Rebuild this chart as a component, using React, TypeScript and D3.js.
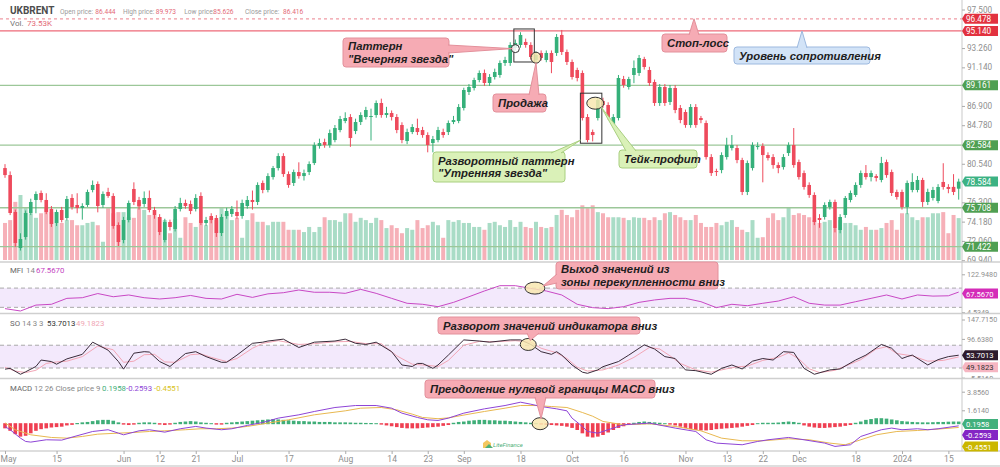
import React, { useEffect, useRef } from 'react';
import * as d3 from 'd3';

// Daily candles [open, high, low, close], May 1 2023 .. Jan 17 2024
const candles: number[][] = [
  [80.07, 80.5, 79.0, 79.30], [79.30, 79.7, 74.9, 75.13], [75.24, 75.5, 71.4, 71.83], [71.28, 72.9, 71.0, 72.27], [72.49, 75.4, 72.2, 75.13],
  [75.13, 76.7, 74.9, 76.34], [76.56, 77.5, 75.1, 77.22], [77.33, 77.6, 76.3, 76.56], [76.56, 77.3, 75.0, 75.24], [75.57, 75.9, 73.6, 73.92],
  [74.03, 75.5, 73.7, 75.24], [75.46, 75.8, 74.1, 74.36], [74.58, 77.0, 74.3, 76.67], [76.78, 77.2, 75.5, 75.79], [76.01, 77.3, 75.1, 75.68],
  [75.68, 76.2, 74.4, 75.90], [76.01, 77.7, 75.8, 77.44], [77.66, 78.7, 77.4, 78.21], [78.32, 78.6, 75.2, 75.90], [76.01, 77.5, 75.7, 77.22],
  [77.44, 77.9, 76.8, 77.00], [77.00, 77.3, 73.4, 73.70], [73.81, 74.1, 71.5, 71.94], [72.16, 74.7, 71.8, 74.36], [74.36, 76.5, 74.1, 76.23],
  [77.77, 78.5, 76.0, 76.34], [76.56, 76.9, 75.5, 75.90], [76.12, 77.5, 75.8, 76.78], [76.78, 77.6, 75.2, 75.46], [75.46, 75.8, 74.5, 74.91],
  [74.69, 75.0, 72.7, 73.04], [72.16, 74.5, 71.9, 74.14], [74.14, 74.4, 73.2, 73.59], [73.37, 75.9, 73.1, 75.57], [75.57, 76.8, 75.3, 76.23],
  [76.23, 76.6, 75.6, 75.90], [76.12, 76.5, 75.0, 75.35], [75.57, 77.2, 75.3, 76.78], [77.00, 77.4, 73.8, 74.03], [74.03, 74.7, 73.7, 74.36],
  [74.80, 75.1, 74.0, 74.36], [74.58, 74.9, 72.5, 72.93], [72.93, 75.0, 72.6, 74.69], [74.80, 75.7, 74.5, 75.35], [75.02, 75.9, 74.7, 75.57],
  [75.24, 76.5, 74.5, 74.80], [74.80, 76.6, 74.5, 76.23], [75.90, 77.0, 75.6, 76.56], [76.56, 77.6, 75.5, 76.34], [76.34, 78.5, 76.0, 78.21],
  [78.43, 78.7, 77.3, 77.66], [77.66, 79.5, 77.4, 79.19], [79.08, 80.3, 78.8, 80.07], [80.07, 81.7, 79.8, 81.39], [81.39, 81.7, 79.1, 79.41],
  [79.41, 79.7, 77.9, 78.21], [78.43, 79.9, 78.1, 79.63], [79.63, 80.7, 78.9, 79.19], [79.19, 79.9, 78.7, 79.52], [79.63, 80.8, 79.3, 80.51],
  [80.62, 82.9, 80.4, 82.60], [82.49, 83.3, 82.2, 82.82], [82.93, 83.3, 82.3, 82.60], [82.60, 84.3, 82.3, 83.92], [83.15, 84.8, 82.9, 84.47],
  [84.25, 85.8, 84.0, 85.46], [85.24, 86.2, 85.0, 85.57], [85.68, 86.0, 82.4, 83.37], [84.14, 85.5, 83.8, 85.13], [85.13, 86.2, 84.8, 85.90],
  [85.68, 86.8, 85.4, 86.45], [85.68, 86.6, 83.1, 85.79], [85.90, 87.5, 85.6, 87.22], [87.22, 87.7, 85.6, 85.90], [85.90, 86.8, 85.6, 86.12],
  [86.12, 86.4, 85.3, 85.68], [85.68, 86.0, 83.9, 84.25], [84.80, 85.1, 82.8, 83.15], [83.04, 84.4, 82.7, 84.03], [84.03, 84.9, 83.8, 84.58],
  [84.47, 85.5, 83.7, 84.03], [84.25, 84.6, 83.4, 83.70], [83.70, 84.0, 81.8, 82.60], [82.82, 83.6, 81.8, 83.26], [83.15, 84.6, 82.9, 84.25],
  [84.03, 84.4, 83.4, 83.70], [84.03, 85.3, 83.7, 85.02], [85.13, 85.8, 84.9, 85.35], [85.24, 87.1, 85.0, 86.78], [86.67, 88.9, 86.4, 88.65],
  [88.43, 89.3, 88.1, 88.98], [88.87, 90.0, 88.6, 89.75], [89.75, 90.8, 89.5, 90.52], [90.52, 90.9, 89.1, 89.42], [89.42, 90.4, 89.1, 90.08],
  [90.08, 91.0, 89.8, 90.63], [90.30, 91.9, 90.0, 91.62], [91.62, 92.3, 91.3, 91.95], [91.62, 93.9, 91.3, 93.60], [93.27, 94.2, 93.0, 93.82],
  [93.60, 95.0, 93.3, 94.70], [93.93, 94.3, 93.3, 93.60], [93.60, 93.9, 92.0, 92.28], [91.95, 92.9, 91.5, 92.50], [92.72, 93.0, 91.9, 92.17],
  [91.95, 93.0, 91.7, 92.72], [92.72, 93.0, 90.5, 91.73], [92.72, 94.8, 92.4, 94.48], [94.70, 95.25, 92.5, 92.83], [92.83, 93.1, 91.4, 91.73],
  [91.73, 92.0, 89.8, 90.08], [90.85, 91.1, 89.6, 89.97], [90.52, 90.8, 85.3, 85.57], [85.68, 86.0, 82.9, 83.15], [84.03, 84.3, 83.0, 83.70],
  [85.57, 87.8, 85.3, 87.55], [87.44, 87.8, 86.7, 87.00], [87.00, 87.3, 85.4, 85.68], [84.91, 86.0, 84.5, 85.68], [85.57, 90.3, 85.3, 89.97],
  [89.86, 90.2, 88.9, 89.20], [88.98, 90.1, 88.7, 89.86], [90.30, 91.9, 89.4, 91.07], [90.52, 92.5, 90.2, 92.17], [92.06, 92.3, 90.9, 91.18],
  [90.85, 91.2, 89.1, 89.42], [89.53, 89.8, 86.9, 87.22], [87.22, 89.3, 86.9, 88.98], [88.98, 89.3, 86.9, 87.22], [87.33, 89.2, 87.0, 88.87],
  [88.87, 89.2, 86.1, 86.45], [86.67, 87.0, 85.0, 85.35], [86.23, 86.5, 84.5, 84.80], [84.80, 87.1, 84.5, 86.78], [86.78, 87.1, 84.5, 84.80],
  [85.57, 85.8, 85.0, 85.35], [85.02, 85.3, 81.0, 81.28], [81.28, 81.6, 79.2, 79.52], [79.74, 80.0, 79.2, 79.63], [79.85, 81.8, 79.5, 81.50],
  [81.28, 83.4, 81.0, 82.60], [82.27, 83.7, 82.0, 82.60], [82.27, 82.6, 80.6, 80.95], [80.95, 81.2, 77.1, 77.44], [77.44, 80.9, 77.1, 80.62],
  [80.07, 82.9, 79.8, 82.60], [82.38, 82.9, 82.1, 82.49], [82.49, 82.8, 78.5, 81.50], [81.50, 81.8, 80.9, 81.17], [81.28, 81.6, 80.0, 80.40],
  [80.40, 80.7, 79.5, 80.07], [80.18, 81.6, 79.9, 81.28], [81.72, 82.9, 81.4, 82.60], [82.60, 84.47, 80.1, 80.40], [80.73, 81.0, 78.8, 79.08],
  [79.52, 79.8, 77.7, 77.99], [78.21, 78.5, 76.8, 77.11], [77.11, 77.4, 73.8, 74.14], [74.58, 75.0, 73.5, 74.36], [74.69, 76.3, 74.4, 76.01],
  [75.79, 76.6, 75.5, 76.34], [76.34, 76.6, 73.0, 73.48], [73.26, 75.0, 72.9, 74.69], [74.91, 77.0, 74.6, 76.78], [76.56, 77.6, 76.3, 77.33],
  [77.11, 78.5, 76.9, 78.21], [78.21, 79.8, 77.9, 79.52], [79.52, 80.4, 78.8, 79.08], [79.08, 79.8, 78.6, 79.52], [79.19, 79.4, 78.6, 78.98],
  [78.76, 81.3, 78.5, 80.62], [80.73, 81.0, 79.0, 79.30], [79.63, 79.9, 77.0, 77.33], [77.44, 77.7, 76.6, 76.89], [77.44, 77.7, 75.5, 75.79],
  [75.79, 78.7, 75.0, 78.43], [77.66, 79.5, 77.4, 78.54], [77.66, 79.2, 77.4, 78.76], [78.76, 79.0, 75.8, 76.34], [76.34, 77.8, 76.0, 77.44],
  [76.78, 78.0, 76.5, 77.66], [76.45, 78.3, 76.2, 77.99], [78.54, 80.6, 77.7, 77.99], [77.99, 78.3, 77.3, 77.77], [78.00, 79.4, 77.1, 77.44],
  [77.80, 78.9, 76.6, 78.58],
];

// volume, thousands
const volumes = [
  65, 70, 102, 114, 91, 82, 74, 82, 91, 84, 84, 65, 70, 70, 61, 61, 65, 67, 61, 32,
  91, 82, 84, 84, 75, 74, 102, 88, 79, 79, 75, 70, 47, 72, 39, 75, 65, 58, 70, 61,
  74, 70, 91, 82, 70, 74, 39, 70, 82, 67, 67, 61, 67, 67, 67, 53, 53, 53, 49, 58,
  49, 58, 75, 70, 70, 67, 82, 82, 67, 74, 70, 65, 74, 70, 56, 61, 56, 47, 56, 53,
  70, 56, 61, 67, 61, 39, 70, 67, 70, 65, 65, 58, 58, 53, 65, 67, 61, 58, 70, 58,
  67, 58, 56, 67, 58, 56, 58, 79, 88, 79, 75, 88, 96, 91, 96, 84, 82, 75, 75, 75,
  74, 70, 75, 74, 74, 70, 75, 70, 82, 84, 79, 75, 70, 70, 79, 65, 58, 58, 65, 61,
  67, 70, 58, 53, 49, 70, 39, 40, 74, 82, 70, 75, 93, 79, 82, 79, 75, 70, 65, 67,
  70, 56, 70, 65, 65, 61, 53, 58, 53, 53, 56, 65, 70, 53, 82, 82, 75, 70, 75, 75,
  82, 82, 84, 47, 79, 73.53,
];

const xTicks: [number, string][] = [
  [0, 'May'], [10, '15'], [23, 'Jun'], [30, '12'], [37, '21'], [45, 'Jul'], [55, '17'],
  [66, 'Aug'], [75, '14'], [82, '23'], [89, 'Sep'], [100, '18'], [110, 'Oct'], [120, '16'],
  [132, 'Nov'], [140, '13'], [147, '22'], [154, 'Dec'], [165, '18'], [174, '2024'], [183, '15'],
];

// axis ticks that stay visible (the rest sit under the value tags)
const priceTicks = [97.5, 93.26, 91.14, 86.9, 84.78, 80.54, 76.3, 74.18, 72.06, 69.94];
const mfiTicks = [122.948, 4.5349];
const soTicks = [147.715, 96.638, -5.516];
const macdTicks = [3.856, 1.614];

// horizontal levels on price pane
const levels = [
  { v: 96.478, kind: 'stop' },
  { v: 95.14, kind: 'resist' },
  { v: 89.161, kind: 'sup' },
  { v: 82.584, kind: 'sup' },
  { v: 75.708, kind: 'sup' },
  { v: 71.422, kind: 'sup' },
];
const lastPrice = 78.584;

// indicator lines as [bar index, value]
const mfiPts: [number, number][] = [
  [0, 16], [3, 8.6], [6, 27], [9, 29.5], [12, 48], [15, 50], [18, 63], [21, 53], [24, 58.5], [27, 50],
  [30, 46], [33, 50], [36, 57], [39, 48], [42, 46], [45, 60.6], [48, 51], [51, 62], [54, 65.6], [57, 74],
  [60, 67], [63, 67], [66, 63.6], [69, 76], [72, 63.6], [75, 48], [78, 32.6], [81, 29.5], [84, 22], [87, 35.5],
  [90, 53], [93, 71], [96, 87.5], [99, 87.5], [102, 79], [105, 71], [108, 58.5], [111, 29.5], [114, 19], [117, 16],
  [120, 22], [123, 35.5], [126, 43], [129, 48], [132, 48], [135, 37.6], [138, 19], [141, 29.5], [144, 25], [147, 32.6],
  [150, 39.6], [153, 53], [156, 32.6], [159, 27], [162, 27], [165, 37.6], [168, 48], [171, 58.5], [174, 46], [177, 58.5],
  [180, 55], [183, 56], [185, 67.567],
];

const soK: [number, number][] = [
  [0, 17], [1, 19], [3, 3.5], [4, 10], [6, 24], [7, 41], [9, 37], [10, 30], [12, 44], [15, 56], [17, 88], [20, 67],
  [22, 37], [23, 17], [25, 59], [27, 63], [28, 62], [30, 37], [32, 24], [35, 58], [37, 63], [39, 50], [42, 35], [43, 35],
  [45, 54], [48, 85], [50, 88], [51, 91], [54, 96], [57, 74], [60, 88], [64, 91], [66, 96], [68, 85], [70, 82], [72, 88],
  [75, 63], [77, 28], [79, 24], [80, 32], [81, 32], [83, 19], [84, 28], [86, 54], [89, 94], [92, 91], [94, 88], [98, 94],
  [100, 94], [102, 82], [104, 63], [106, 56], [107, 63], [108, 54], [110, 28], [112, 9], [113, 6], [115, 15], [116, 23.5],
  [119, 37], [121, 54], [124, 81], [126, 70], [128, 50], [130, 45], [132, 15], [134, 13], [137, 3.5], [139, 19], [141, 28],
  [143, 17.5], [145, 38], [147, 45], [149, 41], [151, 63], [153, 61], [155, 19], [157, 3.5], [160, 15], [162, 17.5],
  [165, 41], [167, 54], [170, 82], [172, 72], [174, 45], [175, 50], [176, 54], [179, 28], [181, 42], [183, 50], [185, 53.7013],
];

const soD: [number, number][] = [
  [0, 22], [2, 12], [4, 8], [6, 14], [8, 32], [10, 36], [12, 38], [15, 50], [18, 78], [21, 68], [23, 35], [25, 38],
  [27, 55], [29, 56], [31, 36], [33, 35], [36, 55], [38, 57], [40, 48], [43, 37], [45, 45], [48, 72], [50, 85], [53, 92],
  [57, 82], [60, 84], [64, 89], [67, 90], [70, 84], [73, 84], [76, 52], [79, 30], [82, 27], [84, 24], [86, 40], [89, 80],
  [92, 90], [95, 89], [99, 92], [102, 88], [104, 72], [107, 60], [109, 45], [111, 22], [113, 12], [116, 15], [119, 28],
  [122, 48], [125, 74], [127, 70], [129, 52], [131, 32], [134, 15], [137, 9], [140, 18], [142, 23], [144, 25], [147, 40],
  [150, 48], [152, 60], [154, 44], [156, 18], [158, 8], [161, 14], [163, 25], [166, 42], [169, 70], [171, 76], [173, 58],
  [176, 52], [179, 38], [182, 40], [185, 49.1823],
];

const macdPts: [number, number][] = [
  [0, -0.35], [1, -0.73], [3, -1.74], [4, -2.14], [5, -2.22], [8, -1.94], [11, -1.98], [13, -1.62], [17, -0.94], [20, -0.73],
  [22, -1.14], [23, -1.34], [26, -0.86], [28, -0.73], [31, -1.02], [34, -0.61], [37, -0.33], [39, -0.53], [42, -0.73], [44, -0.61],
  [47, -0.21], [50, 0.15], [53, 0.67], [57, 1.07], [60, 1.47], [64, 1.95], [68, 2.19], [72, 2.19], [75, 1.87], [77, 1.27],
  [80, 0.75], [82, 0.47], [84, 0.39], [86, 0.67], [89, 1.27], [93, 1.79], [97, 2.19], [100, 2.59], [102, 2.35], [104, 2.07],
  [107, 1.79], [109, 1.55], [110, 0.67], [112, -0.33], [113, -0.94], [115, -1.14], [117, -0.73], [120, -0.13], [125, 0.07], [130, -0.53],
  [134, -0.94], [136, -1.94], [138, -2.34], [143, -2.54], [146, -2.14], [148, -1.94], [152, -1.66], [155, -1.94], [159, -2.34], [161, -2.74],
  [164, -2.54], [166, -1.54], [170, -0.73], [172, -0.53], [174, -0.73], [177, -0.61], [179, -0.73], [181, -0.61], [185, -0.2593],
];

const signalPts: [number, number][] = [
  [0, 0.1], [2, -0.73], [5, -1.34], [9, -1.66], [12, -1.74], [15, -1.54], [18, -1.26], [22, -1.14], [25, -1.06], [28, -0.94],
  [31, -0.86], [35, -0.73], [38, -0.61], [41, -0.61], [44, -0.53], [47, -0.33], [51, 0.07], [55, 0.47], [60, 1.07], [66, 1.55],
  [69, 1.87], [73, 1.95], [76, 1.67], [79, 1.15], [81, 0.75], [84, 0.6], [86, 0.7], [90, 1.15], [93, 1.47], [97, 1.87],
  [100, 2.19], [103, 2.19], [106, 2.07], [109, 1.95], [112, 1.35], [114, 0.9], [116, 0.27], [120, -0.13], [125, -0.01], [130, -0.33],
  [135, -0.86], [139, -1.74], [143, -2.06], [147, -2.06], [152, -1.82], [156, -1.94], [160, -2.34], [163, -2.54], [165, -2.14], [169, -1.34],
  [173, -0.94], [177, -0.82], [181, -0.65], [185, -0.4551],
];

const histogram = [
  -0.5, -0.8, -1.2, -1.5, -1.4, -1.1, -0.8, -0.6, -0.5, -0.4, -0.35, -0.3,
  -0.15, -0.08, 0.02,
  0.1, 0.15, 0.25, 0.35, 0.4, 0.4, 0.3,
  0.1, -0.05, -0.1, -0.05, 0.05,
  0.1, 0.1, 0.05, -0.05, -0.1, -0.05, 0.05,
  0.15, 0.2, 0.25, 0.2, 0.1, 0.05, 0.0,
  -0.05, -0.05, 0.05, 0.1, 0.15, 0.2, 0.25,
  0.3, 0.35, 0.4,
  0.45, 0.5, 0.45, 0.4, 0.35,
  0.3, 0.25, 0.25, 0.2, 0.2, 0.15, 0.15, 0.15, 0.1, 0.1, 0.1, 0.08, 0.05, 0.05, 0.03, 0.02,
  0.0, -0.05, -0.15, -0.25, -0.35,
  -0.45, -0.5, -0.5, -0.5, -0.45, -0.4, -0.35, -0.3, -0.2, -0.1,
  0.05, 0.15, 0.2, 0.3, 0.35, 0.4, 0.4, 0.35, 0.35, 0.3, 0.3, 0.25, 0.2, 0.15, 0.1, 0.05,
  0.0, -0.05, -0.1, -0.1, -0.15, -0.2, -0.3, -0.45, -0.7,
  -1.1, -1.5, -1.6, -1.5,
  -1.3, -1.0, -0.7, -0.45, -0.25, -0.1,
  0.05, 0.15, 0.2, 0.15, 0.1, 0.05,
  0.0, -0.05, -0.15, -0.3,
  -0.45, -0.6, -0.7, -0.75, -0.75, -0.7, -0.6, -0.55, -0.5, -0.45, -0.4, -0.3, -0.2,
  -0.1, 0.0, 0.05, 0.05, 0.05, 0.08,
  0.15, 0.2, 0.15, 0.05,
  -0.15, -0.3, -0.4, -0.45, -0.45, -0.4, -0.35, -0.3, -0.2,
  -0.1, 0.05, 0.2,
  0.4, 0.5, 0.6, 0.6, 0.55, 0.45, 0.35,
  0.25, 0.2, 0.15, 0.12, 0.1, 0.1, 0.12, 0.15, 0.15, 0.18, 0.2, 0.1958,
];

const GREEN = '#35b07a';
const RED = '#ee4a5c';
const VOL_GREEN = '#a9dcc6';
const VOL_RED = '#f6b0b8';
const AXIS_TXT = '#8f8f8f';
const FONT = 'Roboto, "Liberation Sans", sans-serif';
const NOTE_FONT = '"Liberation Sans", Arial, sans-serif';

const boxStyles: Record<string, { fill: string; stroke: string }> = {
  pink: { fill: '#f6abb4', stroke: '#e3909b' },
  green: { fill: '#daf1b8', stroke: '#a9cf80' },
  blue: { fill: '#d2e3f7', stroke: '#9db9df' },
};

export default function App() {
  const svgRef = useRef<SVGSVGElement>(null);

  useEffect(() => {
    if (!svgRef.current) return;
    const svg = d3.select(svgRef.current);
    svg.selectAll('*').remove();

    const PLOT_R = 962;
    const x = d3.scaleLinear().domain([0, 185]).range([5, 958.7]);
    const yP = d3.scaleLinear().domain([69.94, 97.5]).range([260.2, 9.5]);
    const yV = d3.scaleLinear().domain([0, 120]).range([260, 191.6]);
    const yMfi = d3.scaleLinear().domain([4.5349, 122.948]).range([312.3, 274.3]);
    const ySo = d3.scaleLinear().domain([-5.516, 147.715]).range([377.7, 319.5]);
    const yMacd = d3.scaleLinear().domain([1.614, 3.856]).range([410.3, 391.7]);

    svg.append('rect').attr('width', 1000).attr('height', 467).attr('fill', '#fff');

    const defs = svg.append('defs');
    const clip = (id: string, y0: number, y1: number, w = PLOT_R) =>
      defs.append('clipPath').attr('id', id).append('rect').attr('x', 0).attr('y', y0).attr('width', w).attr('height', y1 - y0);
    clip('cPrice', 0, 261.5);
    clip('cMfi', 262.5, 313);
    clip('cSo', 314, 378);
    clip('cMacd', 379, 450.5);
    clip('aPrice', 0, 261.5, 1000);
    clip('aMfi', 262.5, 313, 1000);
    clip('aSo', 314, 378, 1000);
    clip('aMacd', 379, 450.5, 1000);

    // ---------- price pane ----------
    const pp = svg.append('g').attr('clip-path', 'url(#cPrice)');
    const bw = 3.6;

    pp.selectAll('rect.vol')
      .data(volumes)
      .enter()
      .append('rect')
      .attr('x', (d, i) => x(i) - 2)
      .attr('width', 4)
      .attr('y', d => yV(d))
      .attr('height', d => yV(0) - yV(d))
      .attr('fill', (d, i) => (candles[i][3] >= candles[i][0] ? VOL_GREEN : VOL_RED));

    levels.forEach(l => {
      const line = pp.append('line')
        .attr('x1', 0).attr('x2', PLOT_R)
        .attr('y1', yP(l.v)).attr('y2', yP(l.v))
        .attr('stroke', l.kind === 'sup' ? '#9cc799' : l.kind === 'stop' ? '#f09aa4' : '#ee6a79')
        .attr('stroke-width', l.kind === 'sup' ? 1.3 : 1.2);
      if (l.kind === 'stop') line.attr('stroke-dasharray', '3,3');
    });

    const cg = pp.selectAll('g.c').data(candles).enter().append('g');
    cg.append('line')
      .attr('x1', (d, i) => x(i)).attr('x2', (d, i) => x(i))
      .attr('y1', d => yP(d[1])).attr('y2', d => yP(d[2]))
      .attr('stroke', d => (d[3] >= d[0] ? GREEN : RED))
      .attr('stroke-width', 1);
    cg.append('rect')
      .attr('x', (d, i) => x(i) - bw / 2)
      .attr('width', bw)
      .attr('y', d => yP(Math.max(d[0], d[3])))
      .attr('height', d => Math.max(1, Math.abs(yP(d[0]) - yP(d[3]))))
      .attr('fill', d => (d[3] >= d[0] ? GREEN : RED));

    // header
    const hdr = svg.append('text').attr('font-family', FONT).attr('y', 14);
    hdr.append('tspan').attr('x', 10).attr('font-size', 10).attr('font-weight', 700).attr('fill', '#4d4d4d').text('UKBRENT');
    const hItems: [number, string, number, string][] = [
      [60, 'Open price:', 95.3, '86.444'],
      [123, 'High price:', 155.7, '89.973'],
      [184.3, 'Low price:', 213.3, '85.626'],
      [245, 'Close price:', 283, '86.416'],
    ];
    hItems.forEach(([lx, lab, vx, val]) => {
      hdr.append('tspan').attr('x', lx).attr('font-size', 6.6).attr('fill', '#9a9a9a').text(lab);
      hdr.append('tspan').attr('x', vx).attr('font-size', 6.6).attr('fill', '#e36a78').text(val);
    });
    const vol = svg.append('text').attr('font-family', FONT).attr('y', 26).attr('font-size', 8);
    vol.append('tspan').attr('x', 10).attr('fill', '#777').text('Vol.');
    vol.append('tspan').attr('x', 27).attr('fill', '#e36a78').text('73.53K');

    // ---------- indicator panes ----------
    const band = (g: any, ys: any) => {
      g.append('rect').attr('x', 0).attr('width', PLOT_R)
        .attr('y', ys(80)).attr('height', ys(20) - ys(80)).attr('fill', '#f3e9fc');
      [80, 20].forEach(v => g.append('line').attr('x1', 0).attr('x2', PLOT_R)
        .attr('y1', ys(v)).attr('y2', ys(v)).attr('stroke', '#a9a9a9').attr('stroke-dasharray', '4,3'));
    };
    const lineGen = (ys: any) => d3.line<[number, number]>().x(d => x(d[0])).y(d => ys(d[1]));

    const mg = svg.append('g').attr('clip-path', 'url(#cMfi)');
    band(mg, yMfi);
    mg.append('path').attr('d', lineGen(yMfi)(mfiPts)).attr('fill', 'none').attr('stroke', '#c848c4').attr('stroke-width', 1);

    const sg = svg.append('g').attr('clip-path', 'url(#cSo)');
    band(sg, ySo);
    sg.append('path').attr('d', lineGen(ySo)(soD)).attr('fill', 'none').attr('stroke', '#f2a6b6').attr('stroke-width', 1);
    sg.append('path').attr('d', lineGen(ySo)(soK)).attr('fill', 'none').attr('stroke', '#3a2b3a').attr('stroke-width', 1);

    const hg = svg.append('g').attr('clip-path', 'url(#cMacd)');
    hg.selectAll('rect.h').data(histogram).enter().append('rect')
      .attr('x', (d, i) => x(i) - 1.8).attr('width', 3.6)
      .attr('y', d => Math.min(yMacd(0), yMacd(d)) - 0.5)
      .attr('height', d => Math.abs(yMacd(d) - yMacd(0)) + 1)
      .attr('fill', d => (d >= 0 ? '#3fae78' : '#ef3f52'));
    hg.append('path').attr('d', lineGen(yMacd)(signalPts)).attr('fill', 'none').attr('stroke', '#e8b850').attr('stroke-width', 1);
    hg.append('path').attr('d', lineGen(yMacd)(macdPts)).attr('fill', 'none').attr('stroke', '#8e44d6').attr('stroke-width', 1);

    // pane titles
    const title = (y: number, parts: [number, string, string][]) => {
      const t = svg.append('text').attr('font-family', FONT).attr('font-size', 7.8).attr('y', y);
      parts.forEach(([px, s, c]) => t.append('tspan').attr('x', px).attr('fill', c).text(s));
    };
    title(273, [[10, 'MFI', '#666'], [26, '14', '#888'], [36, '67.5670', '#c43fc1']]);
    title(326, [[10, 'SO', '#666'], [22, '14 3 3', '#888'], [47, '53.7013', '#333'], [76, '49.1823', '#f0a6b4']]);
    title(391, [[10, 'MACD', '#666'], [34, '12 26 Close price 9', '#888'], [102, '0.1958', '#3fae78'],
      [126, '-0.2593', '#8e44d6'], [154, '-0.4551', '#d8c21a']]);

    // ---------- separators / axes ----------
    const sep = (y: number, x2 = 1000, c = '#cfcfcf', w = 1.4) =>
      svg.append('line').attr('x1', 0).attr('x2', x2).attr('y1', y).attr('y2', y).attr('stroke', c).attr('stroke-width', w);
    sep(262); sep(313.5); sep(378.5); sep(451, 1000, '#bdbdbd', 1); sep(466, 1000, '#bdbdbd', 1);
    svg.append('line').attr('x1', PLOT_R).attr('x2', PLOT_R).attr('y1', 0).attr('y2', 451)
      .attr('stroke', '#c9c9c9').attr('stroke-width', 1);

    const styleAxis = (g: any, size: number) => {
      g.select('.domain').remove();
      g.selectAll('.tick line').attr('stroke', '#aaa');
      g.selectAll('.tick text').attr('fill', AXIS_TXT).attr('font-family', FONT).attr('font-size', size);
    };
    const rightAxis = (ys: any, ticks: number[], fmt: string, clipId: string, size: number) => {
      const g = svg.append('g').attr('clip-path', `url(#${clipId})`).append('g')
        .attr('transform', `translate(${PLOT_R},0)`)
        .call(d3.axisRight(ys).tickValues(ticks).tickFormat(d3.format(fmt)).tickSize(3).tickPadding(2));
      styleAxis(g, size);
    };
    rightAxis(yP, priceTicks, '.3f', 'aPrice', 8.2);
    rightAxis(yMfi, mfiTicks, '.4f', 'aMfi', 7.2);
    rightAxis(ySo, soTicks, '.4f', 'aSo', 7.2);
    rightAxis(yMacd, macdTicks, '.4f', 'aMacd', 7.2);

    const xa = svg.append('g').attr('transform', 'translate(0,451)')
      .call(d3.axisBottom(x).tickValues(xTicks.map(t => t[0]))
        .tickFormat((d, i) => xTicks[i][1]).tickSize(3).tickPadding(2));
    styleAxis(xa, 8.5);
    xa.selectAll('.tick text').filter((d: any) => d === 0).attr('text-anchor', 'start').attr('dx', -5);

    // value tags on the right
    const tag = (y: number, text: string, fill: string, color = '#fff', size = 8.2) => {
      const g = svg.append('g');
      g.append('path')
        .attr('d', `M${PLOT_R},${y} L${PLOT_R + 3},${y - 5} L998,${y - 5} L998,${y + 5} L${PLOT_R + 3},${y + 5} Z`)
        .attr('fill', fill);
      g.append('text').attr('x', 966).attr('y', y + 3).attr('font-family', FONT).attr('font-size', size)
        .attr('fill', color).text(text);
    };
    levels.forEach(l => tag(yP(l.v), d3.format('.3f')(l.v), l.kind === 'sup' ? '#4f9f52' : '#e2323f'));
    tag(yP(lastPrice), d3.format('.3f')(lastPrice), '#3cb283');
    tag(yMfi(67.567) + 1.5, '67.5670', '#d42cb8', '#fff', 7.6);
    tag(ySo(53.7013), '53.7013', '#2e1b2c', '#fff', 7.6);
    tag(ySo(53.7013) + 12, '49.1823', '#f6b6c2', '#333', 7.6);
    tag(yMacd(0.1958) + 2, '0.1958', '#41b07c', '#fff', 7.6);
    tag(yMacd(0.1958) + 13, '-0.2593', '#8425c4', '#fff', 7.6);
    tag(yMacd(0.1958) + 24.5, '-0.4551', '#cbb700', '#fff', 7.6);

    // ---------- annotations ----------
    const ann = svg.append('g');
    const eveL = x(99) - 1.5, eveR = x(102) + 3.5;
    ann.append('rect').attr('x', eveL).attr('y', yP(95.36)).attr('width', eveR - eveL)
      .attr('height', yP(91.73) - yP(95.36)).attr('fill', 'none').attr('stroke', '#333').attr('stroke-width', 1);
    const mornL = x(112) - 2, mornR = x(115) + 4;
    ann.append('rect').attr('x', mornL).attr('y', yP(88.3)).attr('width', mornR - mornL)
      .attr('height', yP(82.8) - yP(88.3)).attr('fill', 'none').attr('stroke', '#333').attr('stroke-width', 1);

    const ell = (cx: number, cy: number, rx: number, ry: number, fill = '#f8e8b0') =>
      ann.append('ellipse').attr('cx', cx).attr('cy', cy).attr('rx', rx).attr('ry', ry)
        .attr('fill', fill).attr('fill-opacity', 0.85).attr('stroke', '#333').attr('stroke-width', 1);
    const sellPt = [x(103), yP(92.2)];
    const whitePt = [x(99), yP(93.2)];
    const tpPt = [x(114.5), yP(87.2)];
    const mfiPt = [x(102.8), yMfi(80)];
    const soPt = [x(101.5), ySo(82)];
    const macdPt = [x(103.8), yMacd(0)];
    ell(whitePt[0], whitePt[1], 4, 4, '#ffffff');
    ell(sellPt[0], sellPt[1], 5, 5.5);
    ell(tpPt[0], tpPt[1], 8.5, 6);
    ell(mfiPt[0], mfiPt[1], 10, 6);
    ell(soPt[0], soPt[1], 8, 6);
    ell(macdPt[0], macdPt[1], 8, 6);

    const callouts = [
      { x: 343, y: 38, w: 106, h: 29, kind: 'pink', lines: ['Паттерн', '"Вечерняя звезда"'], base: [[448, 45], [448, 53]], tip: [whitePt[0] - 3, whitePt[1]] },
      { x: 493, y: 94, w: 53, h: 18, kind: 'pink', lines: ['Продажа'], base: [[529, 95], [539, 95]], tip: [sellPt[0], sellPt[1] + 5] },
      { x: 433, y: 152, w: 132, h: 30, kind: 'green', lines: ['Разворотный паттерн', '"Утренняя звезда"'], base: [[551, 153], [561, 153]], tip: [mornL, yP(82.8) - 3] },
      { x: 619, y: 150, w: 78, h: 18, kind: 'green', lines: ['Тейк-профит'], base: [[626, 151], [636, 151]], tip: [tpPt[0] + 6, tpPt[1] + 4] },
      { x: 662, y: 34, w: 65, h: 18, kind: 'pink', lines: ['Стоп-лосс'], base: [[689, 35], [699, 35]], tip: [694, yP(96.478)] },
      { x: 734, y: 47, w: 136, h: 17, kind: 'blue', lines: ['Уровень сопротивления'], base: [[797, 48], [807, 48]], tip: [802, yP(95.14)] },
      { x: 556, y: 262, w: 162, h: 27, kind: 'pink', lines: ['Выход значений из', 'зоны перекупленности вниз'], base: [[557, 274], [557, 283]], tip: [mfiPt[0] + 8, mfiPt[1] - 2] },
      { x: 438, y: 317, w: 202, h: 17, kind: 'pink', lines: ['Разворот значений индикатора вниз'], base: [[527, 333], [539, 333]], tip: [soPt[0] + 2, soPt[1] - 4] },
      { x: 425, y: 380, w: 230, h: 18, kind: 'pink', lines: ['Преодоление нулевой границы MACD вниз'], base: [[535, 397], [546, 397]], tip: [macdPt[0] + 1, macdPt[1] - 5] },
    ];

    callouts.forEach(c => {
      const st = boxStyles[c.kind];
      ann.append('rect').attr('x', c.x).attr('y', c.y).attr('width', c.w).attr('height', c.h)
        .attr('rx', 3).attr('fill', st.fill).attr('stroke', st.stroke).attr('stroke-width', 1);
      const [b1, b2] = c.base;
      ann.append('path').attr('d', `M${b1[0]},${b1[1]} L${c.tip[0]},${c.tip[1]} L${b2[0]},${b2[1]} Z`).attr('fill', st.fill);
      ann.append('path').attr('d', `M${b1[0]},${b1[1]} L${c.tip[0]},${c.tip[1]} L${b2[0]},${b2[1]}`)
        .attr('fill', 'none').attr('stroke', st.stroke).attr('stroke-width', 1);
      const lh = 12.5;
      const y0 = c.y + c.h / 2 - ((c.lines.length - 1) * lh) / 2 + 4;
      c.lines.forEach((s, i) => {
        ann.append('text').attr('x', c.x + 5).attr('y', y0 + i * lh)
          .attr('font-family', NOTE_FONT).attr('font-size', 11.3).attr('font-style', 'italic').attr('font-weight', 700)
          .attr('fill', '#1e1e1e').text(s);
      });
    });

    // watermark
    const wm = svg.append('g').attr('opacity', 0.9);
    wm.append('path').attr('d', 'M483,448 L483,443 L487,440 L491,443 L491,448 Z').attr('fill', '#f2c14e');
    wm.append('path').attr('d', 'M485,448 L489,444 L493,448 Z').attr('fill', '#3aa86b');
    wm.append('text').attr('x', 493).attr('y', 447).attr('font-family', FONT).attr('font-size', 6)
      .attr('font-style', 'italic').attr('fill', '#3aa86b').text('LiteFinance');
  }, []);

  return (
    <svg ref={svgRef} width={1000} height={467}
      style={{ position: 'absolute', left: 0, top: 0, display: 'block', background: '#fff' }} />
  );
}
